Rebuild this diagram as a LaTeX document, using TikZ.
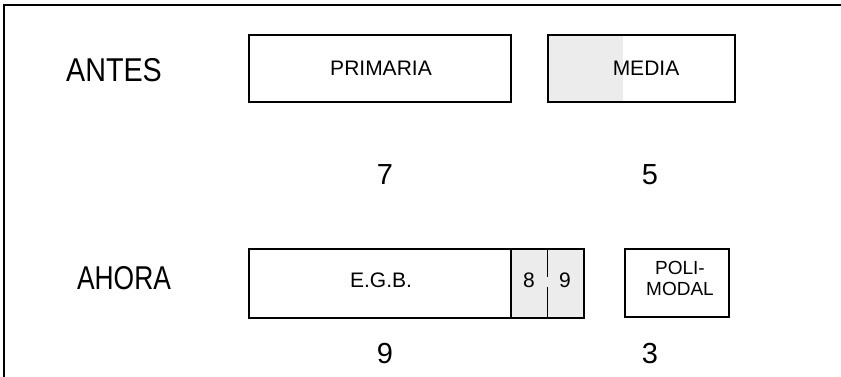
\documentclass[tikz,border=0pt]{standalone}
\usepackage{fontspec}
\setmainfont{Liberation Sans}
\newfontfamily\narrowfont[FakeStretch=0.87]{Liberation Sans}
\newfontfamily\narrowerfont[FakeStretch=0.80]{Liberation Sans}
\definecolor{cellgrey}{HTML}{EBECEB}
\begin{document}
\begin{tikzpicture}[x=1pt,y=-1pt,
  frameline/.style={line width=2pt},
  boxline/.style={draw, line width=2pt},
  rowlabel/.style={font=\narrowfont\fontsize{33}{33}\selectfont, inner sep=0pt},
  numlabel/.style={font=\fontsize{29}{29}\selectfont, inner sep=0pt},
  boxlabel/.style={font=\fontsize{21}{21}\selectfont, inner sep=0pt},
  smalllabel/.style={font=\fontsize{19}{21}\selectfont, inner sep=0pt, align=center}]
\useasboundingbox (0,0) rectangle (841,377);
% frame
\coordinate (fbl) at (4,377);
\coordinate (ftl) at (4,5);
\coordinate (ftr) at (841,5);
\draw[frameline] (fbl) -- (ftl) -- (ftr);
% row labels
\node[rowlabel] (antes) at (114,70) {ANTES};
\node[rowlabel, font=\narrowerfont\fontsize{33}{33}\selectfont] (ahora) at (124,278) {AHORA};
% ANTES boxes
\fill[cellgrey] (548,35) rectangle (623,102);
\draw[boxline] (249,35) rectangle (511,102);
\draw[boxline] (548,35) rectangle (735,102);
\node[boxlabel] (primaria) at (381,68) {PRIMARIA};
\node[boxlabel] (media) at (646,68) {MEDIA};
\node[numlabel] (n7) at (385,175) {7};
\node[numlabel] (n5) at (650,175) {5};
% AHORA boxes
\fill[cellgrey] (511,249) rectangle (584,318);
\draw[boxline] (249,249) rectangle (584,318);
\draw[line width=2pt] (511,249) -- (511,318);
\draw[line width=1pt] (547,249) -- (547,277);
\draw[line width=1pt] (547,287) -- (547,318);
\node[boxlabel] (egb) at (381,280) {E.G.B.};
\node[boxlabel] (c8) at (529,280) {8};
\node[boxlabel] (c9) at (565,280) {9};
\draw[boxline] (625,249) rectangle (729,317);
\node[smalllabel] (poli) at (680,278) {POLI-\\MODAL};
\node[numlabel] (n9) at (385,354) {9};
\node[numlabel] (n3) at (650,354) {3};
\end{tikzpicture}
\end{document}
